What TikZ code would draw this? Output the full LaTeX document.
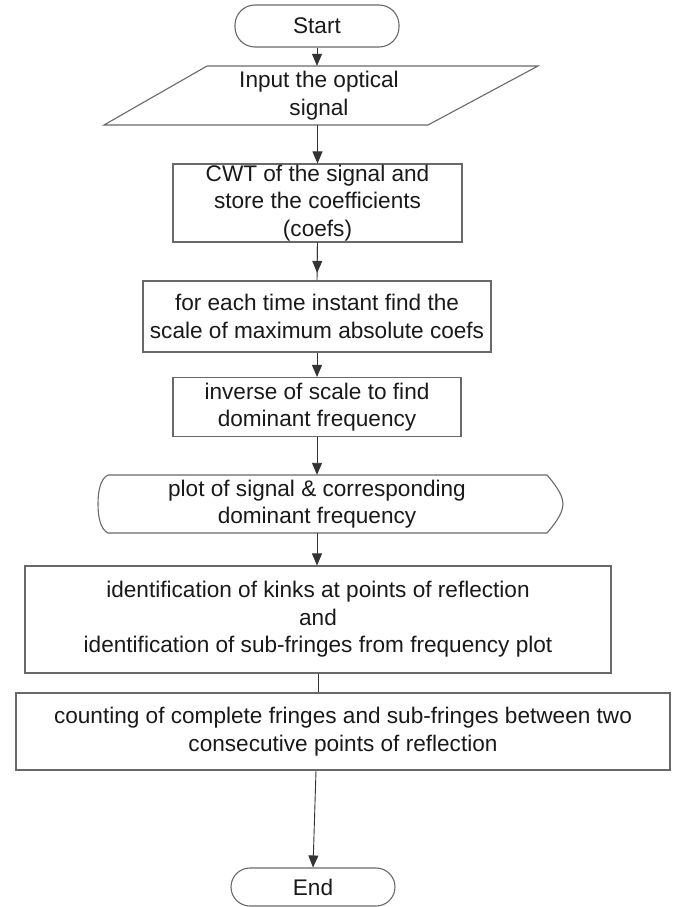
\documentclass[tikz,border=0pt]{standalone}
\usepackage{fontspec}
\setmainfont{Liberation Sans}
\usetikzlibrary{arrows.meta,calc}
\definecolor{boxgray}{RGB}{105,105,105}
\definecolor{txtgray}{RGB}{25,25,25}
\newcommand\flowfont{\fontsize{22.6pt}{27.5pt}\selectfont}
\begin{document}
\begin{tikzpicture}[x=1pt,y=-1pt,
  shapeline/.style={draw=boxgray,line width=1.1pt},
  box/.style={shapeline,rectangle,inner sep=0pt,align=center,font=\flowfont,text=txtgray},
  txtnode/.style={inner sep=0pt,align=center,font=\flowfont,text=txtgray},
  conn/.style={draw=black!80,line width=0.9pt},
  arrowed/.style={-{Triangle[length=12pt,width=10pt]}}]
\useasboundingbox (0,0) rectangle (676,907);

\node[box,rounded corners=20pt,minimum width=164pt,minimum height=42pt] (start) at (317,26) {Start};

\node[txtnode,minimum width=324pt,minimum height=59pt] (input) at (319,95.5) {Input the optical\\signal};
\begin{scope}[shift={(input.center)}]
\draw[shapeline] (-112,-29.5) -- (219,-29.5) -- (109,29.5) -- (-215,29.5) -- cycle;
\end{scope}

\node[box,minimum width=289pt,minimum height=78pt] (cwt) at (317.5,203) {CWT of the signal and\\store the coefficients\\(coefs)};

\node[box,minimum width=348pt,minimum height=71pt] (foreach) at (317,316.5) {for each time instant find the\\scale of maximum absolute coefs};

\node[box,minimum width=288pt,minimum height=59pt] (inverse) at (317,407) {inverse of scale to find\\dominant frequency};

\node[txtnode,minimum height=58pt] (plot) at (317,504) {plot of signal \& corresponding\\dominant frequency};
\begin{scope}[shift={(plot.center)}]
\draw[shapeline] (-209,-29) -- (230,-29) .. controls (236,-22) and (246,-10) .. (246,0)
  .. controls (246,10) and (236,22) .. (230,29) -- (-209,29)
  .. controls (-217,25) and (-219,12) .. (-219,0)
  .. controls (-219,-12) and (-217,-25) .. cycle;
\end{scope}

\node[box,minimum width=586pt,minimum height=107pt] (ident) at (318,619.5) {identification of kinks at points of reflection\\and\\identification of sub-fringes from frequency plot};

\node[box,minimum width=654pt,minimum height=77pt] (count) at (343,731.5) {counting of complete fringes and sub-fringes between two\\consecutive points of reflection};

\node[box,rounded corners=19pt,minimum width=164pt,minimum height=38pt] (end) at (313,887) {End};

\draw[conn,arrowed] (start.south) -- (start.south |- input.north);
\draw[conn,arrowed] (cwt.north |- input.south) -- (cwt.north);
\draw[conn] (cwt.south) -- (foreach.north);
\draw[conn,arrowed] (cwt.south) -- ($(cwt.south)!0.8!(foreach.north)$);
\draw[conn,arrowed] (foreach.south) -- (inverse.north);
\draw[conn,arrowed] (inverse.south) -- (plot.north);
\draw[conn,arrowed] (plot.south) -- (plot.south |- ident.north);
\draw[conn] (ident.south) -- (ident.south |- count.north);
\draw[conn,arrowed] ([xshift=-27pt]count.south) -- (end.north);
\end{tikzpicture}
\end{document}
